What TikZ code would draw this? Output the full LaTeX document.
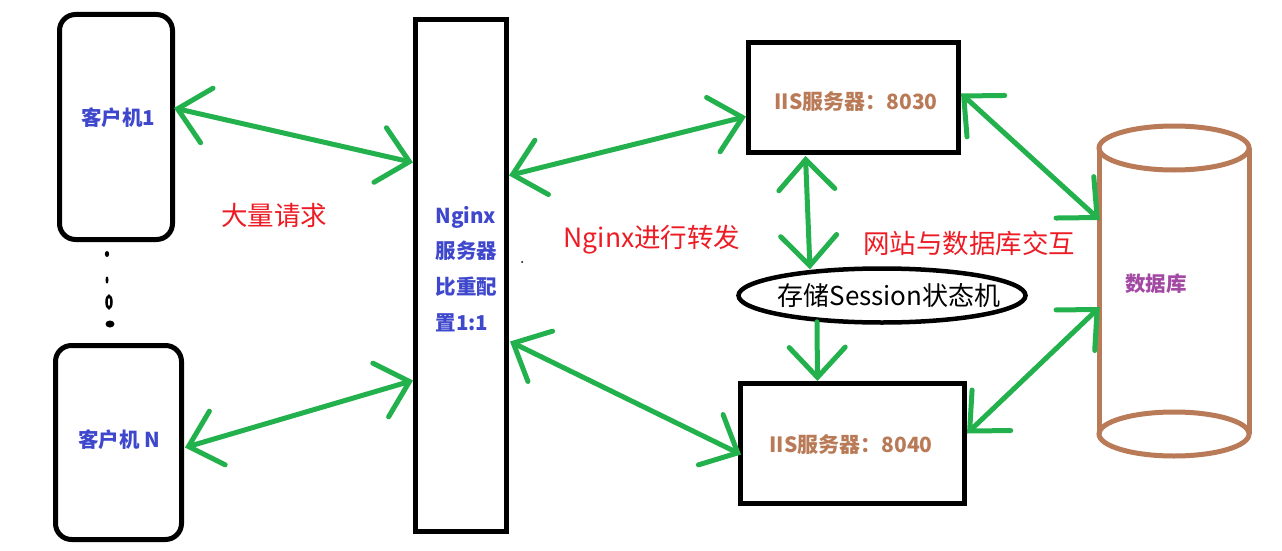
\documentclass[tikz,border=0pt]{standalone}
\usepackage{fontspec}
\newfontfamily\cjk{Noto Sans CJK SC}
\usetikzlibrary{arrows.meta,calc,shapes.geometric}
\definecolor{lgreen}{HTML}{22B14C}
\definecolor{pblue}{HTML}{3F48CC}
\definecolor{pbrown}{HTML}{B97A57}
\definecolor{pred}{HTML}{ED1C24}
\definecolor{ppurple}{HTML}{A349A4}
\tikzset{
  box/.style={draw=black, line width=5pt, inner sep=0pt},
  bluetext/.style={text=pblue, font=\cjk\bfseries\fontsize{20.5pt}{24pt}\selectfont},
  browntext/.style={text=pbrown, font=\cjk\bfseries\fontsize{21pt}{24pt}\selectfont},
  redtext/.style={text=pred, font=\cjk\fontsize{26.5pt}{30pt}\selectfont, inner sep=0pt},
  link/.style={draw=lgreen, line width=5pt, line cap=round,
    arrows={Straight Barb[length=30pt,width=56pt,line cap=round]-Straight Barb[length=30pt,width=56pt,line cap=round]}},
  onelink/.style={draw=lgreen, line width=5pt, line cap=round,
    arrows={-Straight Barb[length=30pt,width=56pt,line cap=round]}},
}
\begin{document}
\begin{tikzpicture}[x=1pt,y=-1pt]
\useasboundingbox (0,0) rectangle (1282,551);
% clients
\node[box, rounded corners=16pt, minimum width=113pt, minimum height=225pt] (c1) at (116,127) {};
\node[bluetext] (c1t) at (118,118) {客户机1};
\node[box, rounded corners=16pt, minimum width=126pt, minimum height=194pt] (cN) at (118.5,442.5) {};
\node[bluetext] (cNt) at (119,440) {客户机 N};
% dots between clients
\fill (107,254) ellipse (2.2pt and 3pt);
\fill (107,280) ellipse (1.5pt and 3.5pt);
\draw[line width=2.5pt] (109,302) ellipse (2.5pt and 6pt);
\fill (110,324) ellipse (4.5pt and 3.5pt);
% nginx
\node[box, minimum width=91pt, minimum height=512pt] (ng) at (461,275.5) {};
\node[bluetext, anchor=west] (ng1) at (432,217) {Nginx};
\node[bluetext, anchor=west] (ng2) at (432,251) {服务器};
\node[bluetext, anchor=west] (ng3) at (432,287) {比重配};
\node[bluetext, anchor=west] (ng4) at (432,323) {置1:1};
\fill (522,262) circle (1pt);
% IIS servers
\node[box, minimum width=210pt, minimum height=110pt] (s1) at (853.5,97.5) {};
\node[browntext] (s1t) at (856,102) {IIS服务器：8030};
\node[box, minimum width=224pt, minimum height=120pt] (s2) at (852.5,443.5) {};
\node[browntext] (s2t) at (851,445) {IIS服务器：8040};
% session ellipse
\node[draw=black, line width=4.5pt, ellipse, minimum width=287pt, minimum height=54pt, inner sep=0pt] (el) at (882,295.5) {};
\node[text=black, font=\cjk\fontsize{26pt}{28pt}\selectfont] (elt) at (889,296) {存储Session状态机};
% database
\node[minimum width=154pt, minimum height=332pt, inner sep=0pt] (db) at (1174,291) {};
\draw[pbrown, line width=5pt] (1174,148) ellipse (75pt and 22pt);
\draw[pbrown, line width=5pt] (1174,434) ellipse (75pt and 22pt);
\draw[pbrown, line width=5pt] (1099,148) -- (1099,434);
\draw[pbrown, line width=5pt] (1249,148) -- (1249,434);
\node[text=ppurple, font=\cjk\bfseries\fontsize{20.5pt}{24pt}\selectfont] (dbt) at (1156,284) {数据库};
% labels
\node[redtext] (l1) at (274,215) {大量请求};
\node[redtext] (l2) at (652,240) {Nginx进行转发};
\node[redtext] (l3) at (969,243) {网站与数据库交互};
% connectors
\draw[link] ($(c1.east)+(-1,-19)$) -- ($(ng.west)+(0,-113)$);
\draw[link] ($(cN.east)+(1,5)$) -- ($(ng.west)+(0,105)$);
\draw[link] ($(ng.east)+(0,-100)$) -- ($(s1.west)+(0,19)$);
\draw[link] ($(ng.east)+(1,66)$) -- ($(s2.west)+(3,11)$);
\draw[link] ($(s1.south)+(-48,1)$) -- ($(el.north)+(-72,3)$);
\draw[onelink] ($(el.south)+(-65,-3)$) -- ($(s2.north)+(-35,0)$);
\draw[link] ($(s1.east)+(0,-4)$) -- ($(db.west)+(3,-71)$);
\draw[link] ($(s2.east)+(0,-10)$) -- ($(db.west)+(3,16)$);
\end{tikzpicture}
\end{document}
